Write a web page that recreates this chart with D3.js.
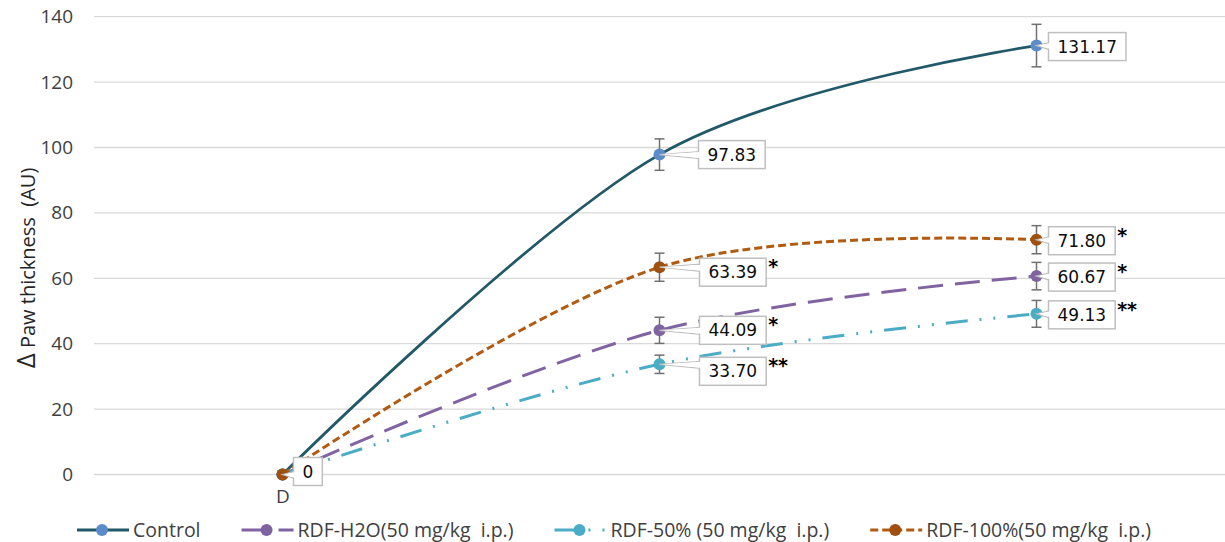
<!DOCTYPE html>
<html>
<head>
<meta charset="utf-8">
<script src="https://cdn.jsdelivr.net/npm/d3@7"></script>
<style>
  body { margin: 0; background: #fff; }
  svg { display: block; }
  text { white-space: pre; }
</style>
</head>
<body>
<svg id="chart" width="1225" height="542"></svg>
<script>
// time points on the x axis (only the first one is labelled)
const timePoints = ["D", "T1", "T2"];
const timeLabels = ["D", "", ""];
const yTicks = [0, 20, 40, 60, 80, 100, 120, 140];

const seriesNames = ["Control", "RDF-H2O(50 mg/kg  i.p.)", "RDF-50% (50 mg/kg  i.p.)", "RDF-100%(50 mg/kg  i.p.)"];

const controlValues = [0, 97.83, 131.17];
const h2oValues = [0, 44.09, 60.67];
const rdf50Values = [0, 33.70, 49.13];
const rdf100Values = [0, 63.39, 71.80];

const controlErrors = [0, 4.8, 6.5];
const h2oErrors = [0, 4.0, 4.2];
const rdf50Errors = [0, 2.8, 4.1];
const rdf100Errors = [0, 4.3, 4.3];

const controlSig = ["", "", ""];
const h2oSig = ["", "*", "*"];
const rdf50Sig = ["", "**", "**"];
const rdf100Sig = ["", "*", "*"];

// styles
const lineColors = ["#215968", "#8064A2", "#4BACC6", "#B05A12"];
const markerColors = ["#5B8BC9", "#8064A2", "#4BACC6", "#A0500E"];
const dashes = [null, "25,12", "22,12,2,12,2,12", "8,4"];
// where each data label box sits relative to its point (null = hidden)
const labelOffsets = [
  [null, [39, 0], [12, 1]],
  [null, [40, 0], [12, 1]],
  [null, [40, 7], [12, 1]],
  [[11, -3], [40, 5], [12, 1]]
];

const series = [
  { name: seriesNames[0], values: controlValues, errors: controlErrors, sig: controlSig },
  { name: seriesNames[1], values: h2oValues, errors: h2oErrors, sig: h2oSig },
  { name: seriesNames[2], values: rdf50Values, errors: rdf50Errors, sig: rdf50Sig },
  { name: seriesNames[3], values: rdf100Values, errors: rdf100Errors, sig: rdf100Sig }
];

const svg = d3.select("#chart");
const plotLeft = 94, plotRight = 1225, plotTop = 16.7, plotBottom = 474.5;

const x = d3.scalePoint().domain(timePoints).range([plotLeft, plotRight]).padding(0.5);
const y = d3.scaleLinear().domain([0, 140]).range([plotBottom, plotTop]);

// gridlines
svg.append("g")
  .selectAll("line")
  .data(yTicks)
  .join("line")
  .attr("x1", plotLeft).attr("x2", plotRight)
  .attr("y1", d => y(d)).attr("y2", d => y(d))
  .attr("stroke", "#D9D9D9").attr("stroke-width", 1.3);

// y axis
const yAxis = svg.append("g")
  .attr("transform", `translate(${plotLeft},0)`)
  .call(d3.axisLeft(y).tickValues(yTicks).tickSize(0).tickPadding(21));
yAxis.select(".domain").remove();
yAxis.selectAll("text")
  .attr("font-family", "'Open Sans', sans-serif")
  .attr("font-size", 19)
  .attr("fill", "#404040");

// x axis labels
const xAxis = svg.append("g")
  .attr("transform", `translate(0,${plotBottom})`)
  .call(d3.axisBottom(x).tickSize(0).tickPadding(15).tickFormat((d, i) => timeLabels[i]));
xAxis.select(".domain").remove();
xAxis.selectAll("text")
  .attr("font-family", "'Open Sans', sans-serif")
  .attr("font-size", 19)
  .attr("fill", "#404040");

// y axis title
const yTitle = svg.append("text")
  .attr("transform", "translate(35,268) rotate(-90)")
  .attr("text-anchor", "middle")
  .attr("font-family", "'Open Sans', sans-serif")
  .attr("fill", "#262626");
yTitle.append("tspan").attr("font-size", 26).text("Δ");
yTitle.append("tspan").attr("font-size", 20).text(" Paw thickness  (AU)");

const line = d3.line()
  .x((d, i) => x(timePoints[i]))
  .y(d => y(d))
  .curve(d3.curveCardinal.tension(0));

// lines
series.forEach((s, k) => {
  svg.append("path")
    .datum(s.values)
    .attr("d", line)
    .attr("fill", "none")
    .attr("stroke", lineColors[k])
    .attr("stroke-width", k === 0 ? 2.75 : 3)
    .attr("stroke-dasharray", dashes[k]);
});

// error bars
series.forEach(s => {
  const g = svg.append("g").attr("stroke", "#707070").attr("stroke-width", 1.5);
  s.values.forEach((v, i) => {
    const e = s.errors[i];
    if (!e) return;
    const cx = x(timePoints[i]);
    g.append("line").attr("x1", cx).attr("x2", cx).attr("y1", y(v + e)).attr("y2", y(v - e));
    g.append("line").attr("x1", cx - 5).attr("x2", cx + 5).attr("y1", y(v + e)).attr("y2", y(v + e));
    g.append("line").attr("x1", cx - 5).attr("x2", cx + 5).attr("y1", y(v - e)).attr("y2", y(v - e));
  });
});

// markers
series.forEach((s, k) => {
  svg.append("g")
    .selectAll("circle")
    .data(s.values)
    .join("circle")
    .attr("cx", (d, i) => x(timePoints[i]))
    .attr("cy", d => y(d))
    .attr("r", 6)
    .attr("fill", markerColors[k]);
});

// data labels with callouts
const fmt = v => v === 0 ? "0" : d3.format(".2f")(v);
series.forEach((s, k) => {
  s.values.forEach((v, i) => {
    const off = labelOffsets[k][i];
    if (!off) return;
    const px = x(timePoints[i]), py = y(v);
    const g = svg.append("g");
    const txt = g.append("text")
      .attr("font-family", "'DejaVu Sans', sans-serif")
      .attr("font-size", 17)
      .attr("fill", "#0D0D0D")
      .text(fmt(v));
    const w = txt.node().getComputedTextLength() + 18;
    const h = 28;
    const bx = px + off[0], cy = py + off[1];
    const by = cy - h / 2;
    // callout pointer
    const a = Math.max(by + 3, Math.min(by + h - 9, py - 3));
    g.insert("path", "text")
      .attr("d", `M${px},${py}L${bx + 1},${a}L${bx + 1},${a + 7}Z`)
      .attr("fill", "#fff").attr("stroke", "#BFBFBF").attr("stroke-width", 1.2);
    g.insert("rect", "text")
      .attr("x", bx).attr("y", by).attr("width", w).attr("height", h)
      .attr("fill", "#fff").attr("stroke", "#BFBFBF").attr("stroke-width", 1.5);
    g.insert("path", "text")
      .attr("d", `M${px + 2},${py}L${bx + 2},${a + 0.5}L${bx + 2},${a + 6.5}Z`)
      .attr("fill", "#fff");
    txt.attr("x", bx + w / 2).attr("y", cy + 6).attr("text-anchor", "middle");
    if (s.sig[i]) {
      g.append("text")
        .attr("x", bx + w + 2).attr("y", by + 15)
        .attr("font-family", "'DejaVu Sans', sans-serif")
        .attr("font-size", 19).attr("font-weight", "bold")
        .attr("fill", "#000")
        .text(s.sig[i]);
    }
  });
});

// legend
const legend = svg.append("g").attr("transform", "translate(77,530)");
let lx = 0;
series.forEach((s, k) => {
  const item = legend.append("g").attr("transform", `translate(${lx},0)`);
  item.append("line")
    .attr("x1", 0).attr("x2", 52).attr("y1", 0).attr("y2", 0)
    .attr("stroke", lineColors[k]).attr("stroke-width", 3)
    .attr("stroke-dasharray", dashes[k]);
  item.append("circle").attr("cx", 25).attr("cy", 0).attr("r", 6).attr("fill", markerColors[k]);
  const t = item.append("text")
    .attr("x", 56).attr("y", 7)
    .attr("font-family", "'Open Sans', sans-serif")
    .attr("font-size", 19.5)
    .attr("fill", "#404040")
    .text(s.name);
  lx += 56 + t.node().getComputedTextLength() + 41;
});
</script>
</body>
</html>
